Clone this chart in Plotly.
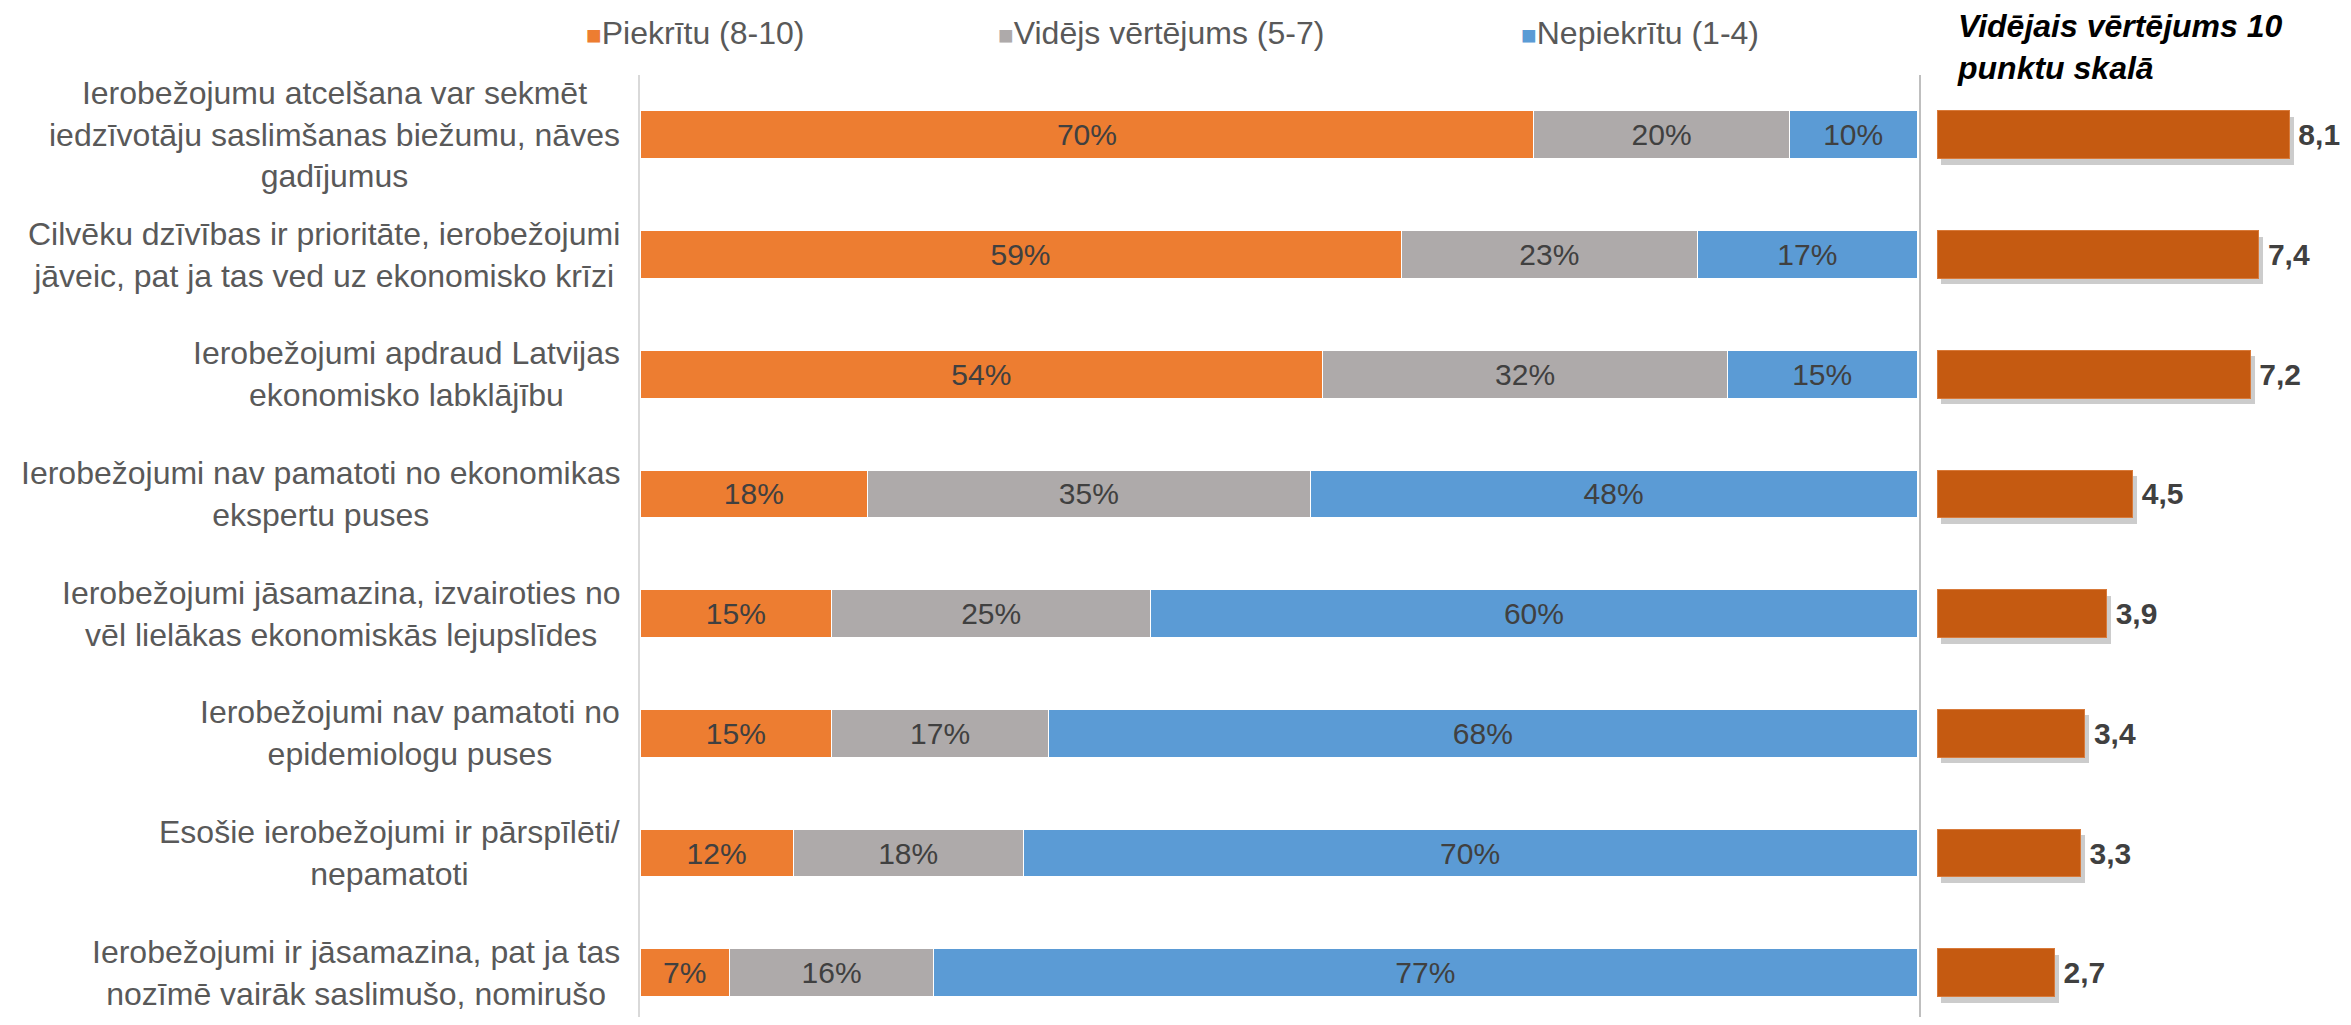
import plotly.graph_objects as go

# dati
statements = [
    "Ierobežojumu atcelšana var sekmēt<br>iedzīvotāju saslimšanas biežumu, nāves<br>gadījumus",
    "Cilvēku dzīvības ir prioritāte, ierobežojumi<br>jāveic, pat ja tas ved uz ekonomisko krīzi",
    "Ierobežojumi apdraud Latvijas<br>ekonomisko labklājību",
    "Ierobežojumi nav pamatoti no ekonomikas<br>ekspertu puses",
    "Ierobežojumi jāsamazina, izvairoties no<br>vēl lielākas ekonomiskās lejupslīdes",
    "Ierobežojumi nav pamatoti no<br>epidemiologu puses",
    "Esošie ierobežojumi ir pārspīlēti/<br>nepamatoti",
    "Ierobežojumi ir jāsamazina, pat ja tas<br>nozīmē vairāk saslimušo, nomirušo",
]
agree = [70, 59, 54, 18, 15, 15, 12, 7]
neutral = [20, 23, 32, 35, 25, 17, 18, 16]
disagree = [10, 17, 15, 48, 60, 68, 70, 77]
mean_score = [8.1, 7.4, 7.2, 4.5, 3.9, 3.4, 3.3, 2.7]

series_names = ["Piekrītu (8-10)", "Vidējs vērtējums (5-7)", "Nepiekrītu (1-4)"]
series_colors = ["#ED7D31", "#AEAAAA", "#5B9BD5"]
mean_color = "#C55A11"
mean_title = "<b><i>Vidējais vērtējums 10<br>punktu skalā</i></b>"

# lapai ir 8px body margin -> figūra mazāka un koordinātes nobīdītas
PAD = 8
W, H = 2351 - 2 * PAD, 1025 - 2 * PAD
TOP = 75 - PAD
ROW = 119.7          # px uz vienu rindu
UNIT = 43.5          # px uz vienu vērtējuma punktu
FONT = "Arial, Liberation Sans, sans-serif"

def px(x):
    return (x - PAD) / W

def py(y):
    # ekrāna pikseļi no augšas -> paper koordināte
    return (H - (y - PAD)) / (H - TOP)

ids = list(range(len(statements)))
# rindas summas (noapaļošanas dēļ 99-101) -> joslas līdz 100%
totals = [a + n + d for a, n, d in zip(agree, neutral, disagree)]

fig = go.Figure()

# sakrautās joslas
for name, vals, col in zip(series_names, [agree, neutral, disagree], series_colors):
    fig.add_trace(go.Bar(
        y=ids, x=[v / t * 100 for v, t in zip(vals, totals)],
        name=name, orientation="h",
        marker=dict(color=col, line=dict(color="white", width=1)),
        width=0.4,
        text=[f"{v}%" for v in vals], textposition="inside",
        insidetextanchor="middle", constraintext="none",
        textfont=dict(size=30, color="#404040", family=FONT),
        xaxis="x", yaxis="y", showlegend=False, hoverinfo="skip",
    ))

# ēna vidējam vērtējumam (apakšējā ass)
fig.add_trace(go.Bar(
    y=ids, x=mean_score, base=0.1, orientation="h",
    marker=dict(color="rgba(0,0,0,0.2)", line=dict(width=0)),
    width=0.4, offset=-0.15,
    xaxis="x2", yaxis="y2", showlegend=False, hoverinfo="skip",
))

# vidējais vērtējums (virsējā ass)
fig.add_trace(go.Bar(
    y=ids, x=mean_score, orientation="h",
    marker=dict(color=mean_color, line=dict(color="#D87A3A", width=1)),
    width=0.4,
    texttemplate="\u2009%{x:.1f}", textposition="outside", cliponaxis=False,
    textfont=dict(size=30, color="#404040", family=FONT, weight="bold"),
    xaxis="x3", yaxis="y2", showlegend=False, hoverinfo="skip",
))

plot_h = H - TOP
yrange = [-0.5 + plot_h / ROW, -0.5]
left_dom = [px(640), px(1917)]
right_dom = [px(1921), 1.0]
right_w = W - (1921 - PAD)
x2range = [-16 / UNIT, (right_w - 16) / UNIT]

fig.update_layout(
    width=W, height=H,
    margin=dict(l=0, r=0, t=TOP, b=0),
    paper_bgcolor="white", plot_bgcolor="white",
    barmode="stack",
    separators=", ",
    font=dict(family=FONT, color="#595959"),
    xaxis=dict(domain=left_dom, range=[0, 100], visible=False, anchor="y"),
    yaxis=dict(range=yrange, showline=True, linecolor="#D9D9D9", linewidth=2,
               showticklabels=False, showgrid=False, zeroline=False,
               ticks="", anchor="x"),
    xaxis2=dict(domain=right_dom, range=x2range, visible=False, anchor="y2"),
    xaxis3=dict(domain=right_dom, range=x2range, visible=False,
                overlaying="x2", anchor="y2"),
    yaxis2=dict(range=yrange, showline=True, linecolor="#BFBFBF", linewidth=2,
                showticklabels=False, showgrid=False, zeroline=False,
                ticks="", anchor="x2"),
)

# kategoriju nosaukumi (rindas centrētas)
for i, s in zip(ids, statements):
    fig.add_annotation(
        x=px(622), xref="paper", y=i, yref="y",
        text=s, showarrow=False, xanchor="right", yanchor="middle",
        align="center", font=dict(size=32, color="#595959", family=FONT),
    )

# leģenda
legend_x = [584, 996, 1519]
for lx, name, col in zip(legend_x, series_names, series_colors):
    fig.add_annotation(
        x=px(lx), xref="paper", y=py(33), yref="paper",
        text=f"<span style='color:{col};font-size:26px'>■</span>{name}",
        showarrow=False, xanchor="left", yanchor="middle",
        font=dict(size=32, color="#595959", family=FONT),
    )

# virsraksts labajai daļai
fig.add_annotation(
    x=px(1955), xref="paper", y=py(6), yref="paper",
    text=mean_title, showarrow=False, xanchor="left", yanchor="top",
    align="left", font=dict(size=32, color="#000000", family=FONT),
)

fig.write_html("out.html")
